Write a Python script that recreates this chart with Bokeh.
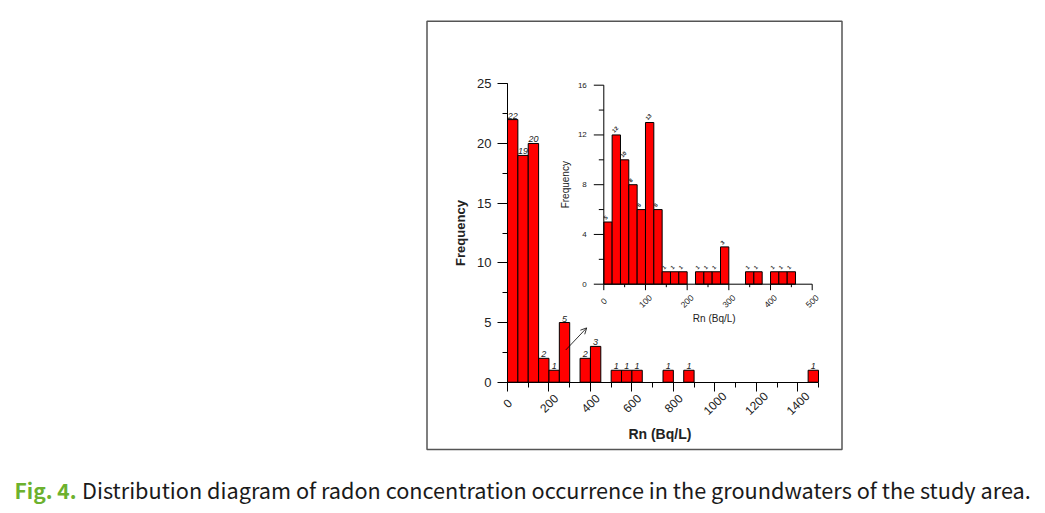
import math
from bokeh.plotting import figure
from bokeh.models import (Range1d, SingleIntervalTicker, Label, Arrow, OpenHead, LinearAxis)
from bokeh.embed import file_html
from bokeh.resources import INLINE
from bokeh.core.properties import value

# ---------------- data ----------------
main_bin_left = [0, 50, 100, 150, 200, 250, 350, 400, 500, 550, 600, 750, 850, 1450]
main_counts = [22, 19, 20, 2, 1, 5, 2, 3, 1, 1, 1, 1, 1, 1]
main_bin_width = 50
main_xticks = [0, 200, 400, 600, 800, 1000, 1200, 1400]

inset_bin_left = [0, 20, 40, 60, 80, 100, 120, 140, 160, 180, 220, 240, 260, 280,
                  340, 360, 400, 420, 440]
inset_counts = [5, 12, 10, 8, 6, 13, 6, 1, 1, 1, 1, 1, 1, 3, 1, 1, 1, 1, 1]
inset_bin_width = 20

inset_xticks = [0, 100, 200, 300, 400, 500]
inset_xminor = [50, 150, 250, 350, 450]
inset_yticks = [0, 4, 8, 12, 16]
inset_yminor = [2, 6, 10, 14]

main_xlabel = "Rn (Bq/L)"
main_ylabel = "Frequency"
caption_fig = "Fig. 4."
caption_text = "Distribution diagram of radon concentration occurrence in the groundwaters of the study area."

# ---------------- layout geometry (page px) ----------------
W, H = 1045, 513
# main plot: x=0 at px 507, x=1500 at px 818 ; y=0 at py 381.7, y=25 at py 83.3
mx0, mkx = 507.0, (818.0 - 507.0) / 1500.0
my0, mky = 381.7, (381.7 - 83.3) / 25.0
XR = (-mx0 / mkx, (W - mx0) / mkx)
YR = ((my0 - H) / mky, my0 / mky)
# inset: x=0 at px 603.3, x=500 at px 811.7 ; y=0 at py 283.7, y=16 at py 84.7
ix0p, ikx = 603.3, (811.7 - 603.3) / 500.0
iy0p, iky = 283.7, (283.7 - 84.7) / 16.0
IXR = (-ix0p / ikx, (W - ix0p) / ikx)
IYR = ((iy0p - H) / iky, iy0p / iky)


def dx(px):
    return (px - mx0) / mkx


def dy(py):
    return (my0 - py) / mky


FONT = "Liberation Sans"
TXT = "#222222"

p = figure(width=W, height=H, output_backend="svg", toolbar_location=None,
           x_range=Range1d(*XR), y_range=Range1d(*YR),
           x_axis_location=None, y_axis_location=None,
           min_border_left=0, min_border_right=0, min_border_top=0, min_border_bottom=0)
p.outline_line_color = None
p.grid.visible = False
p.background_fill_color = "white"
p.border_fill_color = "white"

# ---- main axes (library axes, fixed at the data origin) ----
xa = LinearAxis(fixed_location=0)
xa.ticker = SingleIntervalTicker(interval=200, num_minor_ticks=2)
xa.bounds = (0, 1500)
xa.major_label_overrides = {t: "" for t in main_xticks}
xa.major_tick_in = 0
xa.major_tick_out = 9
xa.minor_tick_in = 0
xa.minor_tick_out = 5
xa.axis_line_color = "black"
p.add_layout(xa, "below")

ya = LinearAxis(fixed_location=0)
ya.ticker = SingleIntervalTicker(interval=5, num_minor_ticks=2)
ya.bounds = (0, 25)
ya.major_label_text_font = FONT
ya.major_label_text_font_size = "13px"
ya.major_label_text_color = TXT
ya.major_tick_in = 0
ya.major_tick_out = 10
ya.minor_tick_in = 0
ya.minor_tick_out = 5
ya.major_label_standoff = 6
ya.axis_line_color = "black"
ya.axis_label = main_ylabel
ya.axis_label_text_font = FONT
ya.axis_label_text_font_style = "bold"
ya.axis_label_text_font_size = "13px"
ya.axis_label_text_color = TXT
ya.axis_label_standoff = 6
p.add_layout(ya, "left")

# x tick labels centred under their ticks, and axis title
p.text(x=main_xticks, y=[0] * len(main_xticks), text=[str(t) for t in main_xticks],
       text_font=value(FONT), text_font_size="12px", text_color=TXT,
       angle=math.pi / 4, text_align="center", text_baseline="middle", y_offset=21)
p.text(x=[735], y=[0], text=[main_xlabel], text_font=value(FONT),
       text_font_style="bold", text_font_size="14px", text_color=TXT,
       text_align="center", text_baseline="middle", y_offset=52)

# ---- main bars ----
main_right = [l + main_bin_width for l in main_bin_left]
main_center = [l + main_bin_width / 2 for l in main_bin_left]
p.quad(left=main_bin_left, right=main_right, bottom=0, top=main_counts,
       fill_color="#ff0000", line_color="black", line_width=1)
p.text(x=main_center, y=main_counts, text=[str(c) for c in main_counts],
       text_font=value(FONT), text_font_style="italic", text_font_size="9px",
       text_color=TXT, text_align="center", text_baseline="bottom", y_offset=-1)

# arrow pointing at inset
p.add_layout(Arrow(end=OpenHead(size=6, line_width=0.8, line_color="black"),
                   x_start=281, y_start=2.7, x_end=382, y_end=4.55,
                   line_width=0.8, line_color="black"))

# ---- inset ----
p.extra_x_ranges = {"ix": Range1d(*IXR)}
p.extra_y_ranges = {"iy": Range1d(*IYR)}
IR = dict(x_range_name="ix", y_range_name="iy")

inset_right = [l + inset_bin_width for l in inset_bin_left]
inset_center = [l + inset_bin_width / 2 for l in inset_bin_left]
p.quad(left=inset_bin_left, right=inset_right, bottom=0, top=inset_counts,
       fill_color="#ff0000", line_color="black", line_width=1, **IR)
p.text(x=inset_center, y=inset_counts, text=[str(c) for c in inset_counts],
       text_font=value(FONT), text_font_size="5.5px", text_font_style="bold",
       text_color=TXT, angle=math.pi / 4, text_align="left",
       text_baseline="bottom", x_offset=-2, y_offset=-2, **IR)

# inset axis lines
p.segment(x0=[0, 0], y0=[0, 0], x1=[0, inset_xticks[-1]], y1=[inset_yticks[-1], 0],
          line_color="black", line_width=1, **IR)
# inset x ticks
p.segment(x0=inset_xticks, y0=[0] * len(inset_xticks), x1=inset_xticks,
          y1=[-6 / iky] * len(inset_xticks), line_color="black", line_width=1, **IR)
p.segment(x0=inset_xminor, y0=[0] * len(inset_xminor), x1=inset_xminor,
          y1=[-3 / iky] * len(inset_xminor), line_color="black", line_width=1, **IR)
# inset y ticks
p.segment(x0=[0] * len(inset_yticks), y0=inset_yticks, x1=[-10 / ikx] * len(inset_yticks),
          y1=inset_yticks, line_color="black", line_width=1, **IR)
p.segment(x0=[0] * len(inset_yminor), y0=inset_yminor, x1=[-5 / ikx] * len(inset_yminor),
          y1=inset_yminor, line_color="black", line_width=1, **IR)
# inset tick labels
p.text(x=inset_xticks, y=[0] * len(inset_xticks), text=[str(t) for t in inset_xticks],
       text_font=value(FONT), text_font_size="8.5px", text_color=TXT,
       angle=math.pi / 4, text_align="center", text_baseline="middle",
       y_offset=17, **IR)
p.text(x=[0] * len(inset_yticks), y=inset_yticks, text=[str(t) for t in inset_yticks],
       text_font=value(FONT), text_font_size="8px", text_color=TXT,
       text_align="right", text_baseline="middle", x_offset=-17, **IR)
# inset axis titles
p.text(x=[265], y=[0], text=[main_xlabel], text_font=value(FONT),
       text_font_size="10px", text_color=TXT, text_align="center",
       text_baseline="middle", y_offset=34, **IR)
p.text(x=[0], y=[8], text=[main_ylabel], text_font=value(FONT),
       text_font_size="10px", text_color=TXT, text_align="center",
       text_baseline="middle", angle=math.pi / 2, x_offset=-38, **IR)

# ---- frame box around the figure ----
p.quad(left=[dx(426.5)], right=[dx(841.5)], top=[dy(20.75)], bottom=[dy(449)],
       fill_color=None, line_color="#555555", line_width=1.5)

# ---- caption ----
p.add_layout(Label(x=dx(14), y=dy(489), text=caption_fig, text_font="Noto Sans CJK KR",
                   text_font_size="21px", text_font_style="bold", text_color="#6cb12e",
                   text_baseline="alphabetic", text_align="left"))
p.add_layout(Label(x=dx(81.5), y=dy(489), text=caption_text, text_font="Noto Sans CJK KR",
                   text_font_size="21.7px", text_color="#1a1a1a",
                   text_baseline="alphabetic", text_align="left"))

open("out.html", "w").write(file_html(p, INLINE))
